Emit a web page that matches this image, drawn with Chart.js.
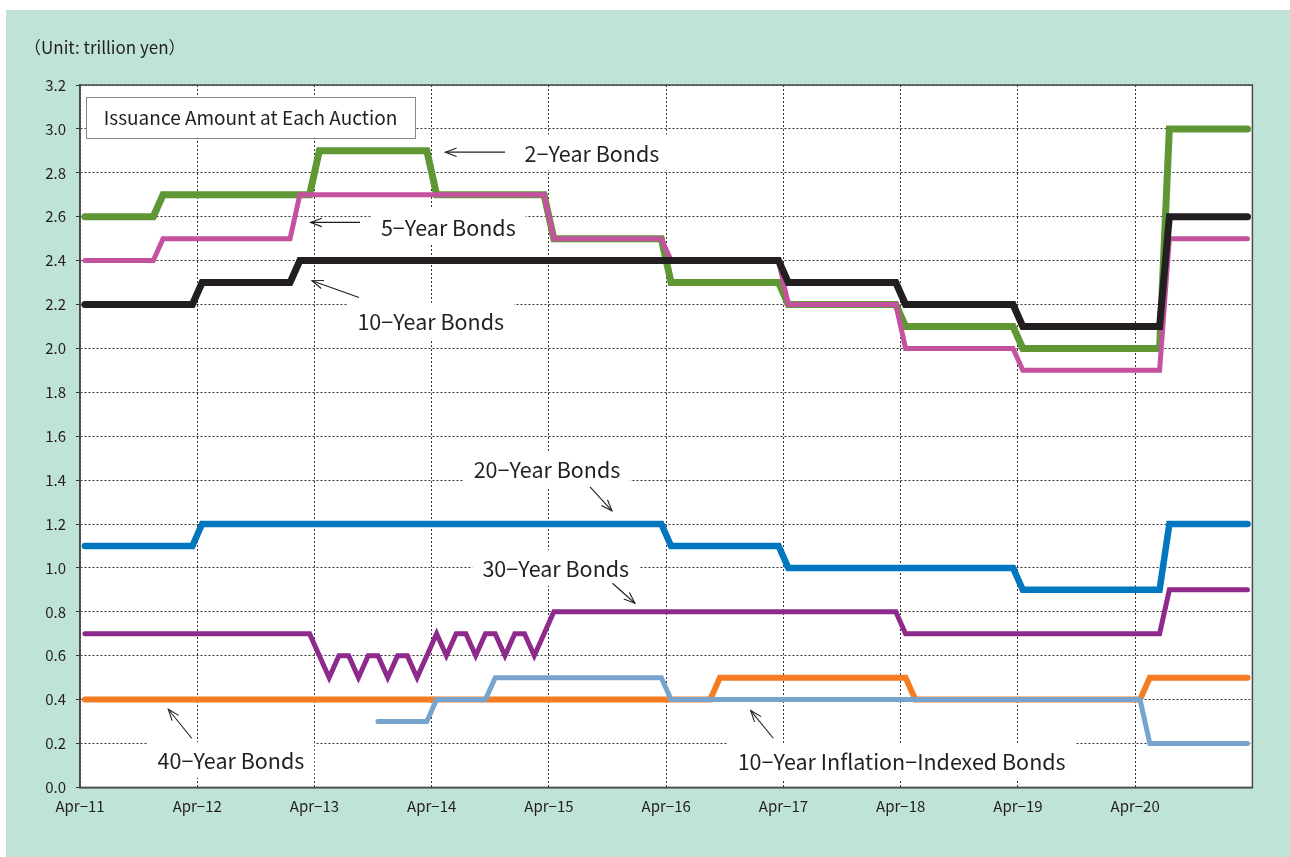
<!DOCTYPE html>
<html><head><meta charset="utf-8">
<style>html,body{margin:0;padding:0;background:#fff;} canvas{display:block;}</style>
<script src="https://cdn.jsdelivr.net/npm/chart.js@4.4.1/dist/chart.umd.min.js"></script>
</head><body>
<canvas id="c" width="1290" height="857" style="width:1290px;height:857px"></canvas>
<script>
// ---- Data (month index 0 = Apr-11, value in trillion yen); points listed where the monthly value changes ----
const xTickLabels = ['Apr−11','Apr−12','Apr−13','Apr−14','Apr−15','Apr−16','Apr−17','Apr−18','Apr−19','Apr−20'];
const yTickValues = [0,0.2,0.4,0.6,0.8,1.0,1.2,1.4,1.6,1.8,2.0,2.2,2.4,2.6,2.8,3.0,3.2];

const bond2Y  = [[0,2.6],[7,2.6],[8,2.7],[23,2.7],[24,2.9],[35,2.9],[36,2.7],[47,2.7],[48,2.5],[59,2.5],[60,2.3],[71,2.3],[72,2.2],[83,2.2],[84,2.1],[95,2.1],[96,2.0],[110,2.0],[111,3.0],[119,3.0]];
const bond5Y  = [[0,2.4],[7,2.4],[8,2.5],[21,2.5],[22,2.7],[47,2.7],[48,2.5],[59,2.5],[60,2.4],[71,2.4],[72,2.2],[83,2.2],[84,2.0],[95,2.0],[96,1.9],[110,1.9],[111,2.5],[119,2.5]];
const bond10Y = [[0,2.2],[11,2.2],[12,2.3],[21,2.3],[22,2.4],[71,2.4],[72,2.3],[83,2.3],[84,2.2],[95,2.2],[96,2.1],[110,2.1],[111,2.6],[119,2.6]];
const bond20Y = [[0,1.1],[11,1.1],[12,1.2],[59,1.2],[60,1.1],[71,1.1],[72,1.0],[95,1.0],[96,0.9],[110,0.9],[111,1.2],[119,1.2]];
const bond30Y = [[0,0.7],[23,0.7],[24,0.6],[25,0.5],[26,0.6],[27,0.6],[28,0.5],[29,0.6],[30,0.6],[31,0.5],[32,0.6],[33,0.6],[34,0.5],[35,0.6],[36,0.7],[37,0.6],[38,0.7],[39,0.7],[40,0.6],[41,0.7],[42,0.7],[43,0.6],[44,0.7],[45,0.7],[46,0.6],[47,0.7],[48,0.8],[83,0.8],[84,0.7],[110,0.7],[111,0.9],[119,0.9]];
const bond40Y = [[0,0.4],[64,0.4],[65,0.5],[84,0.5],[85,0.4],[108,0.4],[109,0.5],[119,0.5]];
const bondIL  = [[30,0.3],[35,0.3],[36,0.4],[41,0.4],[42,0.5],[59,0.5],[60,0.4],[108,0.4],[109,0.2],[119,0.2]];

// ---- Annotations (positions in axis units: months, trillion yen) ----
const unitText = '（Unit: trillion yen）';
const titleBox = {text:'Issuance Amount at Each Auction', x0:0.6, x1:34.3, y0:3.147, y1:2.960};
const labels = [
  {text:'2−Year Bonds', x:52.4, y:2.893},
  {text:'5−Year Bonds', x:37.7, y:2.556},
  {text:'10−Year Bonds', x:35.9, y:2.126},
  {text:'20−Year Bonds', x:47.8, y:1.451},
  {text:'30−Year Bonds', x:48.7, y:1.000},
  {text:'40−Year Bonds', x:15.45, y:0.125},
  {text:'10−Year Inflation−Indexed Bonds', x:84.1, y:0.121}
];
const arrows = [
  [43.5,2.894,37.4,2.894],
  [28.66,2.574,23.6,2.574],
  [28.56,2.232,23.75,2.308],
  [52.2,1.369,54.45,1.260],
  [54.5,0.930,56.8,0.839],
  [11.43,0.224,9.04,0.356],
  [70.96,0.224,68.65,0.350]
];

const FONT = '"Noto Sans CJK JP", "Noto Sans", sans-serif';
const TXT = '#231f20';

function toXY(arr){ return arr.map(([m,v]) => ({x: m + 0.5, y: v})); }
function ds(label, arr, color, width, order){
  return {label, data: toXY(arr), borderColor: color, backgroundColor: color, borderWidth: width,
    pointRadius: 0, tension: 0, borderCapStyle: 'round', borderJoinStyle: 'miter', order, fill:false};
}

const decor = {
  id: 'decor',
  beforeDraw(chart){
    const c = chart.ctx, a = chart.chartArea;
    c.save();
    c.fillStyle = '#ffffff'; c.fillRect(0,0,chart.width,chart.height);
    c.fillStyle = '#bfe3d7'; c.fillRect(6,10,chart.width-6,chart.height-10);
    c.fillStyle = '#ffffff'; c.fillRect(a.left,a.top,a.right-a.left,a.bottom-a.top);
    c.fillStyle = TXT; c.font = '17px ' + FONT; c.textBaseline = 'middle'; c.textAlign = 'left';
    c.fillText(unitText, 24, 48);
    c.restore();
  },
  afterDraw(chart){
    const c = chart.ctx, a = chart.chartArea;
    const xs = chart.scales.x, ys = chart.scales.y;
    const px = v => xs.getPixelForValue(v), py = v => ys.getPixelForValue(v);
    c.save();
    // frame
    c.strokeStyle = '#4a4a4a'; c.lineWidth = 1.5;
    c.strokeRect(a.left, a.top, a.right-a.left, a.bottom-a.top);
    // title box
    const bx0 = px(titleBox.x0), bx1 = px(titleBox.x1), by0 = py(titleBox.y0), by1 = py(titleBox.y1);
    c.fillStyle = '#fff'; c.fillRect(bx0,by0,bx1-bx0,by1-by0);
    c.strokeStyle = '#8a8a8a'; c.lineWidth = 1; c.strokeRect(Math.round(bx0)+0.5,Math.round(by0)+0.5,Math.round(bx1-bx0),Math.round(by1-by0));
    c.fillStyle = TXT; c.font = '19px ' + FONT; c.textAlign = 'center'; c.textBaseline = 'middle';
    c.fillText(titleBox.text, (bx0+bx1)/2, (by0+by1)/2+1);
    // labels
    c.font = '21.5px ' + FONT;
    labels.forEach(l => {
      const w = c.measureText(l.text).width;
      const x = px(l.x), y = py(l.y);
      c.fillStyle = '#fff'; c.fillRect(x - w/2 - 10, y - 18, w + 20, 36);
      c.fillStyle = TXT; c.fillText(l.text, x, y + 1);
    });
    // arrows
    c.strokeStyle = '#231f20'; c.lineWidth = 1.1;
    arrows.forEach(([m0,v0,m1,v1]) => {
      const x0 = px(m0), y0 = py(v0), x1 = px(m1), y1 = py(v1);
      const ang = Math.atan2(y1-y0, x1-x0), L = 12, h = 0.36;
      c.beginPath(); c.moveTo(x0,y0); c.lineTo(x1,y1); c.stroke();
      c.beginPath();
      c.moveTo(x1 - L*Math.cos(ang-h), y1 - L*Math.sin(ang-h));
      c.lineTo(x1,y1);
      c.lineTo(x1 - L*Math.cos(ang+h), y1 - L*Math.sin(ang+h));
      c.stroke();
    });
    c.restore();
  }
};

new Chart(document.getElementById('c'), {
  type: 'line',
  data: { datasets: [
    ds('10-Year Bonds', bond10Y, '#231f20', 7, 0),
    ds('5-Year Bonds', bond5Y, '#c5529f', 5, 1),
    ds('2-Year Bonds', bond2Y, '#5f9734', 7, 2),
    ds('20-Year Bonds', bond20Y, '#0077bf', 6.5, 3),
    ds('30-Year Bonds', bond30Y, '#8e2a8b', 5, 4),
    ds('10-Year Inflation-Indexed Bonds', bondIL, '#77a4cc', 5, 5),
    ds('40-Year Bonds', bond40Y, '#f47c22', 6, 6)
  ]},
  options: {
    responsive: false, animation: false, devicePixelRatio: 1,
    layout: { padding: { left: 10, top: 85, right: 37.6, bottom: 29.6 } },
    plugins: { legend: { display: false }, tooltip: { enabled: false } },
    scales: {
      x: {
        type: 'linear', min: 0, max: 120,
        afterFit: s => { s.height = 40; },
        afterBuildTicks: s => { s.ticks = xTickLabels.map((_, i) => ({value: i*12})).concat([{value:120}]); },
        ticks: { autoSkip: false, maxRotation: 0, padding: 10, color: TXT, font: { family: FONT, size: 15 },
          callback: v => xTickLabels[Math.round(v/12)] ?? '' },
        grid: { color: '#333333', lineWidth: 1, drawTicks: false },
        border: { display: true, color: '#4a4a4a', width: 1.5, dash: [2,2] }
      },
      y: {
        min: 0, max: 3.2,
        afterFit: s => { s.width = 70; },
        afterBuildTicks: s => { s.ticks = yTickValues.map(v => ({value: v})); },
        ticks: { padding: 10, color: TXT, font: { family: FONT, size: 15 }, callback: v => Number(v).toFixed(1) },
        grid: { color: '#333333', lineWidth: 1, drawTicks: true, tickLength: 4, tickColor: '#333333', tickBorderDash: [] },
        border: { display: true, color: '#4a4a4a', width: 1.5, dash: [2,2] }
      }
    }
  },
  plugins: [decor]
});
</script>
</body></html>
